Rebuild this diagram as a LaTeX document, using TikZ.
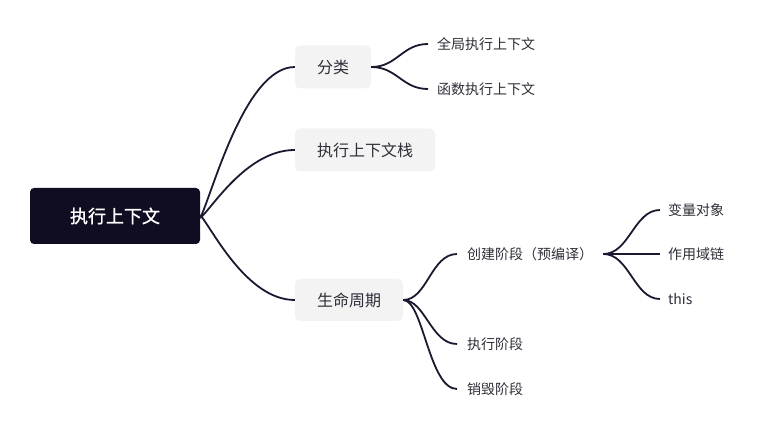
\documentclass[tikz,border=0pt]{standalone}
\usepackage{fontspec}
\setmainfont{Noto Sans CJK SC}
\newfontfamily\cjkb{Noto Sans CJK SC}[FakeBold=1.2]
\definecolor{rootfill}{HTML}{100D22}
\definecolor{subfill}{HTML}{F3F3F4}
\definecolor{txt}{HTML}{2E2E38}
\definecolor{linec}{HTML}{1B1930}
\begin{document}
\begin{tikzpicture}[x=1pt,y=-1pt,
  rootbox/.style={fill=rootfill, rounded corners=4pt, minimum width=170pt, minimum height=56pt, inner sep=0pt, text=white, font=\cjkb\fontsize{18}{20}\selectfont},
  subbox/.style={fill=subfill, rounded corners=5pt, minimum height=43pt, inner sep=0pt, text=txt, font=\fontsize{16}{18}\selectfont},
  leaf/.style={anchor=west, inner ysep=0pt, inner xsep=9pt, text=txt, font=\fontsize{14}{16}\selectfont},
  conn/.style={draw=linec, line width=1.8pt}]
\useasboundingbox (0,0) rectangle (763,435);

\node[rootbox] (root) at (115,216) {执行上下文};

\node[subbox, minimum width=76pt] (fenlei) at (333,67) {分类};
\node[subbox, minimum width=140pt] (zhan) at (365,150) {执行上下文栈};
\node[subbox, minimum width=108pt, minimum height=42pt] (shengming) at (349,300) {生命周期};

\node[leaf] (quanju) at (428,44) {全局执行上下文};
\node[leaf] (hanshu) at (428,89) {函数执行上下文};

\node[leaf, inner xsep=10pt] (chuangjian) at (457,254) {创建阶段（预编译）};
\node[leaf, inner xsep=10pt] (zhixing) at (457,344) {执行阶段};
\node[leaf, inner xsep=10pt] (xiaohui) at (457,389) {销毁阶段};

\node[leaf, inner xsep=8pt] (bianliang) at (660,210) {变量对象};
\node[leaf, inner xsep=8pt] (zuoyong) at (660,254) {作用域链};
\node[leaf, inner xsep=8pt] (this) at (660,299) {this};

% root connectors
\draw[conn] ([yshift=-2pt]root.east) .. controls +(12,-24) and +(-50,0) .. (fenlei.west);
\draw[conn] ([yshift=-2pt]root.east) .. controls +(12,-10) and +(-48,0) .. (zhan.west);
\draw[conn] ([yshift=1pt]root.east) .. controls +(12,14) and +(-48,0) .. (shengming.west);

% fenlei fork
\draw[conn] (fenlei.east) .. controls +(26,0) and +(-26,0) .. (quanju.west);
\draw[conn] (fenlei.east) .. controls +(26,0) and +(-26,0) .. (hanshu.west);

% shengming fork
\draw[conn] (shengming.east) .. controls +(24,0) and +(-26,0) .. (chuangjian.west);
\draw[conn] (shengming.east) .. controls +(22,0) and +(-26,0) .. (zhixing.west);
\draw[conn] (shengming.east) .. controls +(20,0) and +(-28,0) .. (xiaohui.west);

% chuangjian fork
\draw[conn] (chuangjian.east) .. controls +(26,0) and +(-26,0) .. (bianliang.west);
\draw[conn] (chuangjian.east) -- (zuoyong.west);
\draw[conn] (chuangjian.east) .. controls +(26,0) and +(-26,0) .. (this.west);
\end{tikzpicture}
\end{document}
